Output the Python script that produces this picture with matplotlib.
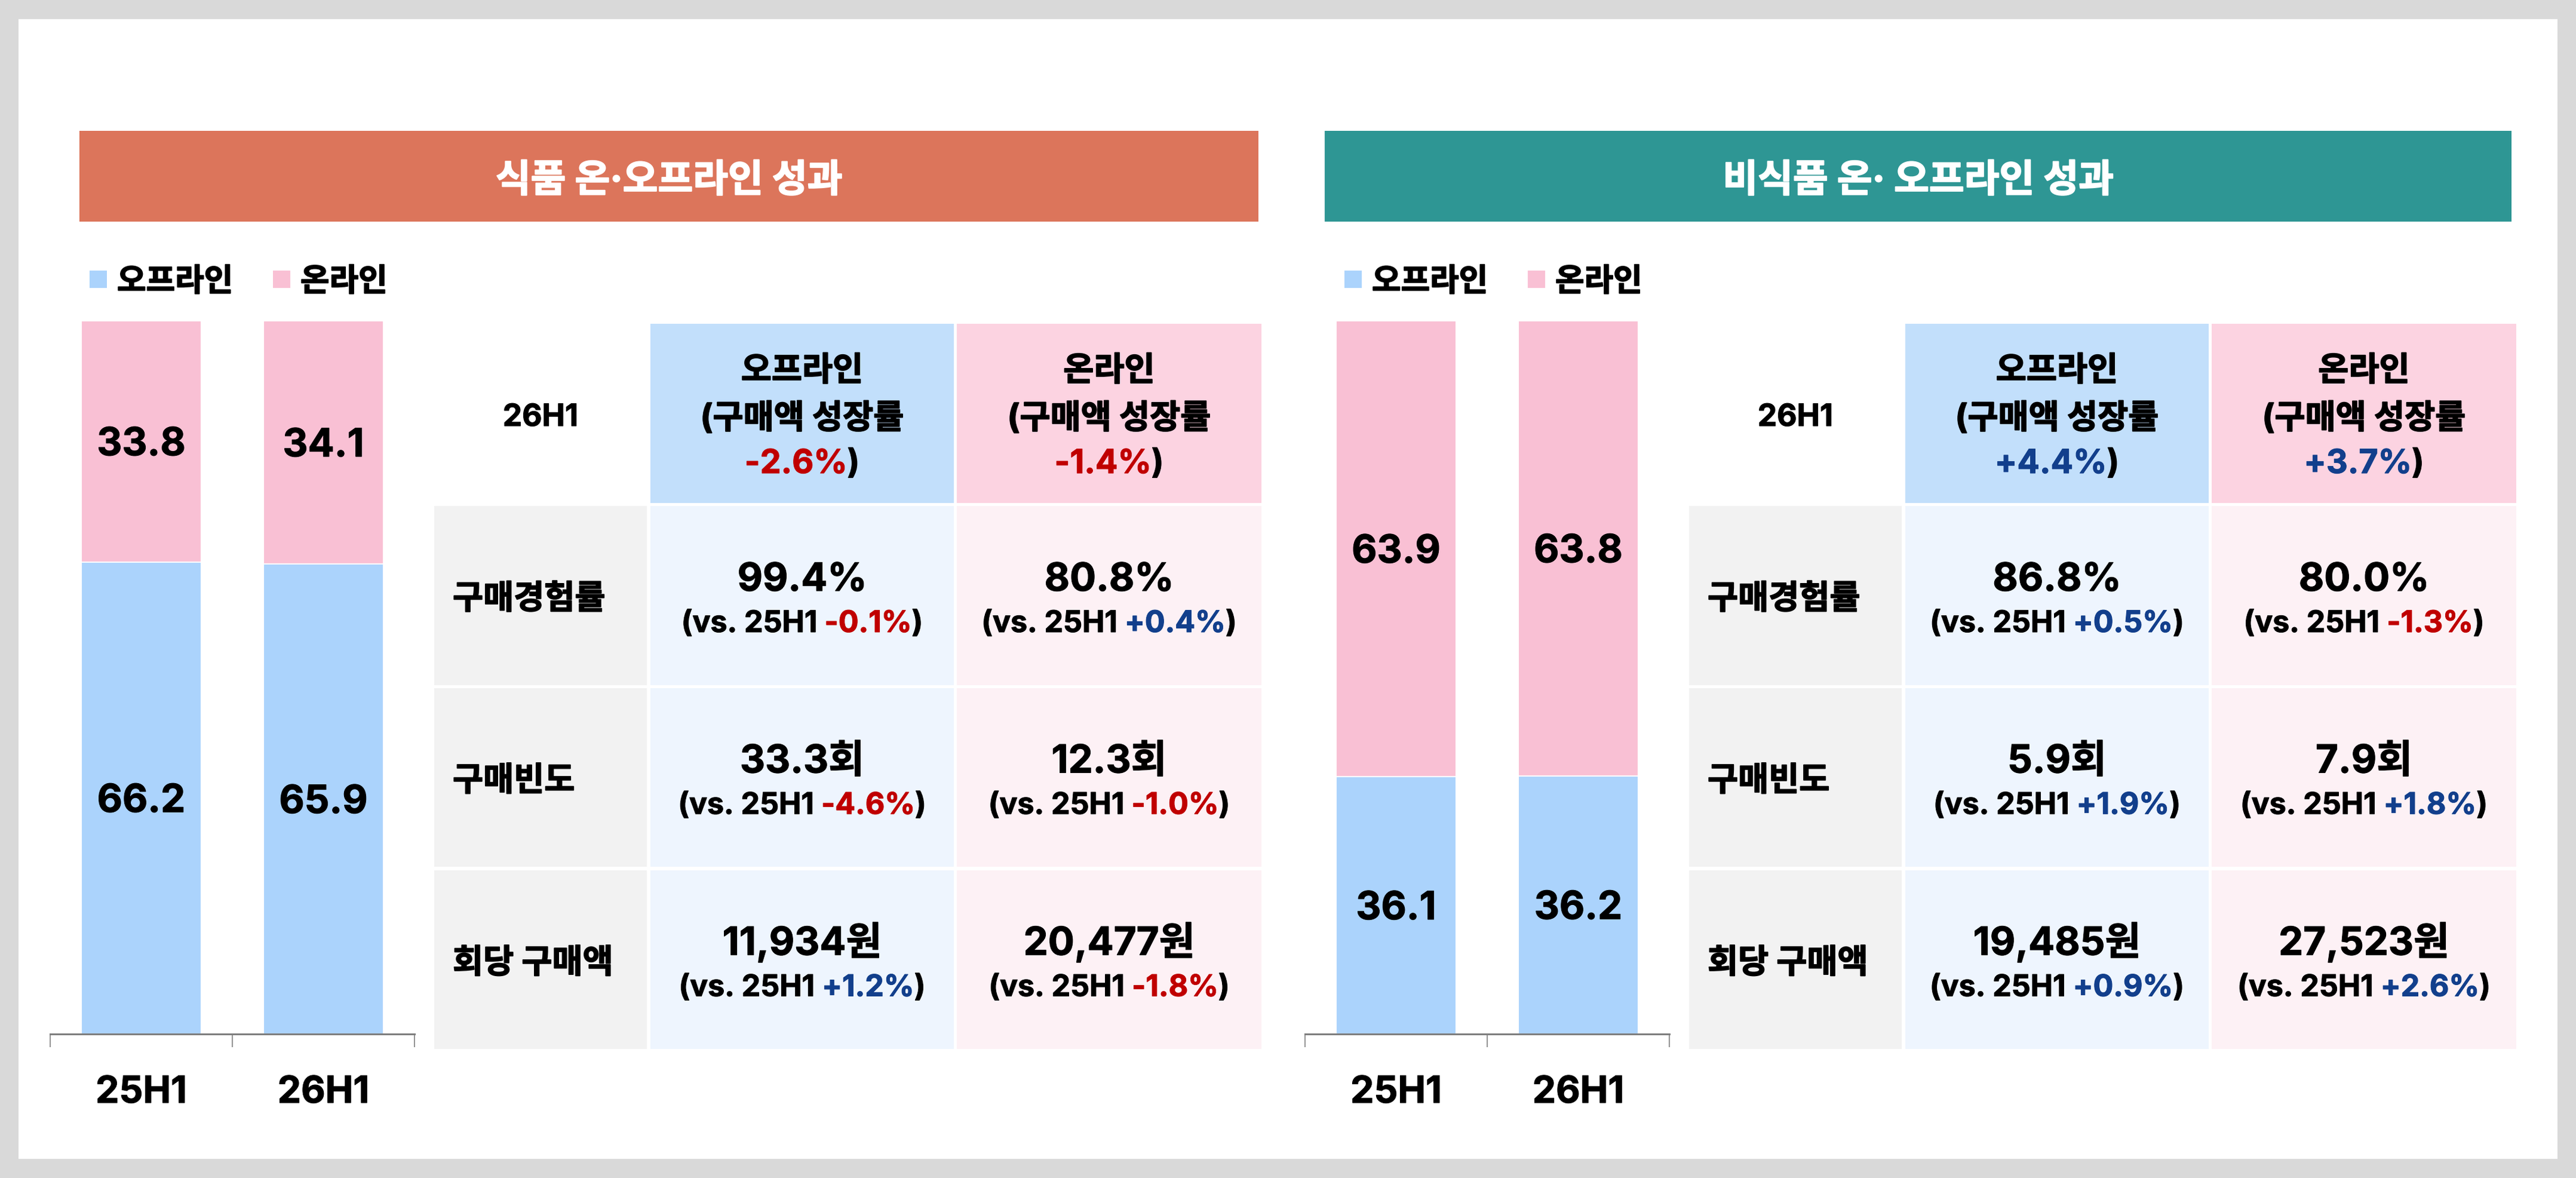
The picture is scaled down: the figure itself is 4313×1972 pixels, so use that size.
import matplotlib
matplotlib.use("Agg")
import matplotlib.pyplot as plt
import matplotlib.patheffects as pe
from matplotlib.patches import Rectangle

# ---- data ----
periods = ["25H1", "26H1"]
food_offline = [66.2, 65.9]
food_online = [33.8, 34.1]
nonfood_offline = [36.1, 36.2]
nonfood_online = [63.9, 63.8]

metrics = ["구매경험률", "구매빈도", "회당 구매액"]
food_growth = [-2.6, -1.4]          # 오프라인, 온라인 구매액 성장률
nonfood_growth = [4.4, 3.7]
food_off_vals = ["99.4%", "33.3회", "11,934원"]
food_off_chg = [-0.1, -4.6, 1.2]
food_on_vals = ["80.8%", "12.3회", "20,477원"]
food_on_chg = [0.4, -1.0, -1.8]
nonfood_off_vals = ["86.8%", "5.9회", "19,485원"]
nonfood_off_chg = [0.5, 1.9, 0.9]
nonfood_on_vals = ["80.0%", "7.9회", "27,523원"]
nonfood_on_chg = [-1.3, 1.8, 2.6]

titles = ["식품 온·오프라인 성과", "비식품 온· 오프라인 성과"]

# ---- style ----
W, H = 4313, 1972
FONT = ["Inter", "Noto Sans CJK KR", "DejaVu Sans"]
plt.rcParams["font.family"] = FONT
plt.rcParams["font.weight"] = "bold"


def thick(color="black", lw=1.3):
    # glyphs a bit heavier, like the original font
    return [pe.withStroke(linewidth=lw, foreground=color)]


NUM_LW = 0.8

C_BG = "#D9D9D9"
C_TITLE = ["#DC755B", "#2E9694"]
C_OFF = "#ABD3FC"
C_ON = "#F9C0D4"
C_HEAD_OFF = "#C2DFFB"
C_HEAD_ON = "#FCD3E1"
C_LABEL = "#F2F2F2"
C_CELL_OFF = "#EEF5FE"
C_CELL_ON = "#FDF1F5"
RED = "#C00000"
BLUE = "#123F8C"
AXIS_GRAY = "#7F7F7F"

PX = 72 / 100  # px -> pt at dpi 100

fig = plt.figure(figsize=(W / 100, H / 100), dpi=100, facecolor=C_BG)
canvas = fig.add_axes([0, 0, 1, 1], zorder=0)
canvas.set_xlim(0, W)
canvas.set_ylim(H, 0)
canvas.axis("off")
renderer = fig.canvas.get_renderer()

canvas.add_patch(Rectangle((31, 32), 4251, 1908, facecolor="white", edgecolor="none"))


def chg_color(v):
    return RED if v < 0 else BLUE


def rich(x, y, parts, size):
    # parts: [(text, color, gap_before_in_spaces)]
    texts, widths = [], []
    sp = canvas.text(0, 0, "x x", fontsize=size)
    sp2 = canvas.text(0, 0, "xx", fontsize=size)
    space = sp.get_window_extent(renderer).width - sp2.get_window_extent(renderer).width
    sp.remove()
    sp2.remove()
    for s, c, gap in parts:
        t = canvas.text(0, y, s, color=c, fontsize=size, ha="left", va="baseline",
                        path_effects=thick(c, NUM_LW))
        texts.append(t)
        widths.append(t.get_window_extent(renderer).width + gap * space)
    total = sum(widths)
    cur = x - total / 2
    for (s, c, gap), t, w in zip(parts, texts, widths):
        t.set_x(cur + gap * space)
        cur += w


panels = [
    dict(dx=0, title_x=(133, 2107), off=food_offline, on=food_online, growth=food_growth,
         off_vals=food_off_vals, off_chg=food_off_chg, on_vals=food_on_vals, on_chg=food_on_chg),
    dict(dx=2101, title_x=(2218, 4205), off=nonfood_offline, on=nonfood_online, growth=nonfood_growth,
         off_vals=nonfood_off_vals, off_chg=nonfood_off_chg, on_vals=nonfood_on_vals, on_chg=nonfood_on_chg),
]

for k, p in enumerate(panels):
    dx = p["dx"]
    # title bar
    x0, x1 = p["title_x"]
    canvas.add_patch(Rectangle((x0, 219), x1 - x0, 152, facecolor=C_TITLE[k], edgecolor="none"))
    canvas.text((x0 + x1) / 2, 321, titles[k], color="white", fontsize=46,
                ha="center", va="baseline", path_effects=thick("white", 1.5))

    # legend
    for lx, col, name in [(150, C_OFF, "오프라인"), (457, C_ON, "온라인")]:
        canvas.add_patch(Rectangle((lx + dx, 453), 29, 29, facecolor=col, edgecolor="none"))
        canvas.text(lx + dx + 46, 487, name, fontsize=38, ha="left", va="baseline",
                    path_effects=thick())

    # stacked bars
    ax_l = 84 + dx
    ax = fig.add_axes([ax_l / W, (H - 1731) / H, 610 / W, 1194 / H], zorder=1)
    ax.set_facecolor("none")
    xs = range(len(periods))
    ax.bar(xs, p["off"], width=0.66, color=C_OFF, edgecolor="white", linewidth=1.5)
    ax.bar(xs, p["on"], width=0.66, bottom=p["off"], color=C_ON, edgecolor="white", linewidth=1.5)
    ax.set_xlim(-0.5, len(periods) - 0.5)
    ax.set_ylim(0, 100)
    for side in ["top", "right", "left"]:
        ax.spines[side].set_visible(False)
    ax.spines["bottom"].set_color(AXIS_GRAY)
    ax.spines["bottom"].set_linewidth(2.2)
    ax.set_yticks([])
    ax.set_xticks([i - 0.5 for i in range(len(periods) + 1)])
    ax.set_xticklabels([])
    ax.tick_params(axis="x", length=22 * PX, width=1.2, color=AXIS_GRAY, direction="out")
    for i in xs:
        for val, bot in [(p["off"][i], 0), (p["on"][i], p["off"][i])]:
            ax.annotate(f"{val:.1f}", xy=(i, bot + val / 2), xytext=(0, -23.5 * PX),
                        textcoords="offset points", ha="center", va="baseline", fontsize=47,
                        path_effects=thick("black", NUM_LW))
        ax.annotate(periods[i], xy=(i, 0), xycoords=("data", "axes fraction"),
                    xytext=(0, -115 * PX), textcoords="offset points",
                    ha="center", va="baseline", fontsize=45, annotation_clip=False,
                    path_effects=thick("black", NUM_LW))

    # table
    col_l = [727 + dx, 1089 + dx, 1602 + dx]
    col_r = [1083 + dx, 1597 + dx, 2112 + dx]
    row_t = [542, 847, 1152, 1457]
    row_b = [842, 1147, 1451, 1756]

    # header row
    canvas.text((col_l[0] + col_r[0]) / 2, 713, "26H1", fontsize=37, ha="center", va="baseline",
                path_effects=thick("black", NUM_LW))
    for j, (name, hcol) in enumerate([("오프라인", C_HEAD_OFF), ("온라인", C_HEAD_ON)]):
        c = j + 1
        canvas.add_patch(Rectangle((col_l[c], row_t[0]), col_r[c] - col_l[c], row_b[0] - row_t[0],
                                   facecolor=hcol, edgecolor="none"))
        cx = (col_l[c] + col_r[c]) / 2
        canvas.text(cx, 637, name, fontsize=40, ha="center", va="baseline", path_effects=thick())
        canvas.text(cx, 717, "(구매액 성장률", fontsize=40, ha="center", va="baseline",
                    path_effects=thick())
        g = p["growth"][j]
        rich(cx, 792, [(f"{g:+.1f}%", chg_color(g), 0), (")", "black", 0)], 40)

    # body rows
    for r, metric in enumerate(metrics):
        top, bot = row_t[r + 1], row_b[r + 1]
        cy = (top + bot) / 2
        cells = [(C_LABEL, None, None), (C_CELL_OFF, p["off_vals"][r], p["off_chg"][r]),
                 (C_CELL_ON, p["on_vals"][r], p["on_chg"][r])]
        for c, (fc, val, ch) in enumerate(cells):
            canvas.add_patch(Rectangle((col_l[c], top), col_r[c] - col_l[c], bot - top,
                                       facecolor=fc, edgecolor="none"))
            if val is None:
                canvas.text(col_l[c] + 31, cy + 22, metric, fontsize=40,
                            ha="left", va="baseline", path_effects=thick())
            else:
                cx = (col_l[c] + col_r[c]) / 2
                canvas.text(cx, cy - 8, val, fontsize=47, ha="center", va="baseline",
                            path_effects=thick("black", NUM_LW))
                rich(cx, cy + 61, [("(vs. 25H1", "black", 0), (f"{ch:+.1f}%", chg_color(ch), 1),
                                   (")", "black", 0)], 36)

fig.savefig("out.png", dpi=100, facecolor=C_BG)
